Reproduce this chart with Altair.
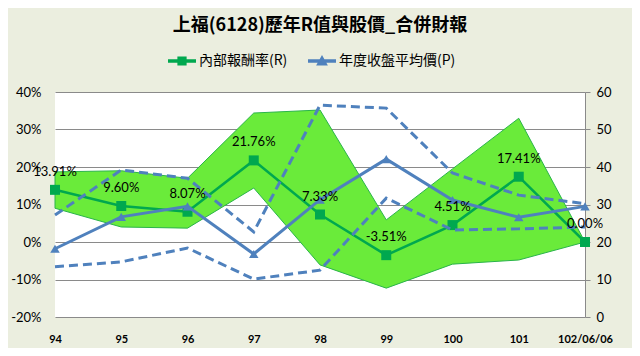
import altair as alt
import pandas as pd

# ---- data ----
cats = ["94", "95", "96", "97", "98", "99", "100", "101", "102/06/06"]
r_vals = [13.91, 9.60, 8.07, 21.76, 7.33, -3.51, 4.51, 17.41, 0.00]
band_hi = [18.7, 19.0, 17.0, 34.4, 35.2, 5.9, 19.5, 33.0, 0.0]
band_lo = [9.0, 4.0, 3.7, 14.4, -6.1, -12.3, -5.9, -4.8, 0.0]
price_avg = [18.2, 26.7, 29.5, 16.8, 31.3, 42.1, 31.2, 26.6, 29.5]
price_hi = [27.2, 39.2, 37.0, 22.7, 56.5, 55.7, 38.4, 32.5, 30.2]
price_lo = [13.4, 14.7, 18.4, 10.1, 12.5, 31.7, 23.2, 23.5, 24.0]
series_names = ["內部報酬率(R)", "年度收盤平均價(P)"]
left_ticks = [-20, -10, 0, 10, 20, 30, 40]
right_ticks = [0, 10, 20, 30, 40, 50, 60]
title_text = "上福(6128)歷年R值與股價_合併財報"

df = pd.DataFrame({
    "cat": cats, "r": r_vals, "hi": band_hi, "lo": band_lo,
    "p": price_avg, "ph": price_hi, "pl": price_lo,
    "label": [f"{v:.2f}%" for v in r_vals],
})
legend_df = pd.DataFrame({"cat": [cats[0]] * 2, "series": series_names, "yv": [-100, -100]})

FONT = "Lato"
CJK = "Noto Sans CJK TC"
GREEN = "#00A84F"
BLUE = "#4F81BD"
FILL = "#6AEB3A"

x = alt.X("cat:O", sort=cats, scale=alt.Scale(type="point", padding=0),
          axis=alt.Axis(title=None, labelAngle=0, ticks=False, domain=False,
                        labelFontWeight="bold", labelFontSize=11, labelPadding=16,
                        labelFont=FONT, labelColor="#000", minExtent=31, maxExtent=31))

ys_left = alt.Scale(domain=[-20, 40], nice=False, zero=False)
yl_axis = alt.Axis(title=None, values=left_ticks, labelExpr="datum.value + '%'",
                   ticks=False, domain=False, grid=True, gridColor="#8a8a8a",
                   labelPadding=14, labelFontSize=13, labelFont=FONT, labelColor="#000",
                   minExtent=47, maxExtent=47)
ys_right = alt.Scale(domain=[0, 60], nice=False, zero=False)
yr_axis = alt.Axis(title=None, orient="right", values=right_ticks, grid=False,
                   domain=True, domainColor="#8a8a8a", ticks=True, tickColor="#8a8a8a",
                   tickSize=5, labelPadding=6, labelFontSize=13, labelFont=FONT,
                   labelColor="#000", minExtent=40, maxExtent=40)

base = alt.Chart(df)

area = base.mark_area(color=FILL, stroke="#2AB44A", strokeWidth=1, opacity=1).encode(
    x=x, y=alt.Y("hi:Q", scale=ys_left, axis=yl_axis), y2="lo:Q")
gline = base.mark_line(color=GREEN, strokeWidth=2.5).encode(
    x=x, y=alt.Y("r:Q", scale=ys_left, axis=yl_axis))
gpts = base.mark_point(shape="square", filled=True, size=100, color=GREEN, opacity=1).encode(
    x=x, y=alt.Y("r:Q", scale=ys_left, axis=yl_axis))

path_g = "M-1,-0.13L1,-0.13L1,0.13L-1,0.13Z M-0.33,-0.33L0.33,-0.33L0.33,0.33L-0.33,0.33Z"
path_b = "M-1,-0.13L1,-0.13L1,0.13L-1,0.13Z M0,-0.42L0.42,0.32L-0.42,0.32Z"
leg = alt.Legend(title=None, orient="none", legendX=113, legendY=-45, direction="horizontal",
                 symbolSize=784, labelFont=CJK, labelFontSize=14, labelColor="#000",
                 symbolStrokeWidth=0, columnPadding=20, labelOffset=3, symbolOpacity=1)
legend_layer = alt.Chart(legend_df).mark_point(filled=True, opacity=1, size=784, clip=True).encode(
    x=x, y=alt.Y("yv:Q", scale=ys_left, axis=yl_axis),
    color=alt.Color("series:N", scale=alt.Scale(domain=series_names, range=[GREEN, BLUE]), legend=leg),
    shape=alt.Shape("series:N", scale=alt.Scale(domain=series_names, range=[path_g, path_b]), legend=leg),
)

left_group = alt.layer(area, gline, gpts, legend_layer)

dash_hi = base.mark_line(color=BLUE, strokeWidth=3, strokeDash=[9, 5]).encode(
    x=x, y=alt.Y("ph:Q", scale=ys_right, axis=yr_axis))
dash_lo = base.mark_line(color=BLUE, strokeWidth=3, strokeDash=[9, 5]).encode(
    x=x, y=alt.Y("pl:Q", scale=ys_right, axis=yr_axis))
bline = base.mark_line(color=BLUE, strokeWidth=3).encode(
    x=x, y=alt.Y("p:Q", scale=ys_right, axis=yr_axis))
bpts = base.mark_point(shape="triangle-up", filled=True, size=90, color=BLUE, opacity=1).encode(
    x=x, y=alt.Y("p:Q", scale=ys_right, axis=yr_axis))
right_group = alt.layer(dash_hi, dash_lo, bline, bpts)

labels = base.mark_text(dy=-18, fontSize=13, font=FONT, color="#000").encode(
    x=x, y=alt.Y("r:Q", scale=alt.Scale(domain=[-20, 40], nice=False, zero=False), axis=None),
    text="label:N")

chart = alt.layer(left_group, right_group, labels).resolve_scale(
    y="independent", color="independent", shape="independent"
).properties(
    width=530, height=225,
    title=alt.TitleParams(text=title_text, font=CJK, fontSize=18, fontWeight="bold",
                          color="#000", anchor="middle", offset=12),
    padding={"left": 0, "top": 9, "right": 7, "bottom": 0},
    background="#EBEEDF",
).configure_view(fill="white", strokeWidth=0)

chart.save("out.html", embed_options={"renderer": "svg", "actions": False})
